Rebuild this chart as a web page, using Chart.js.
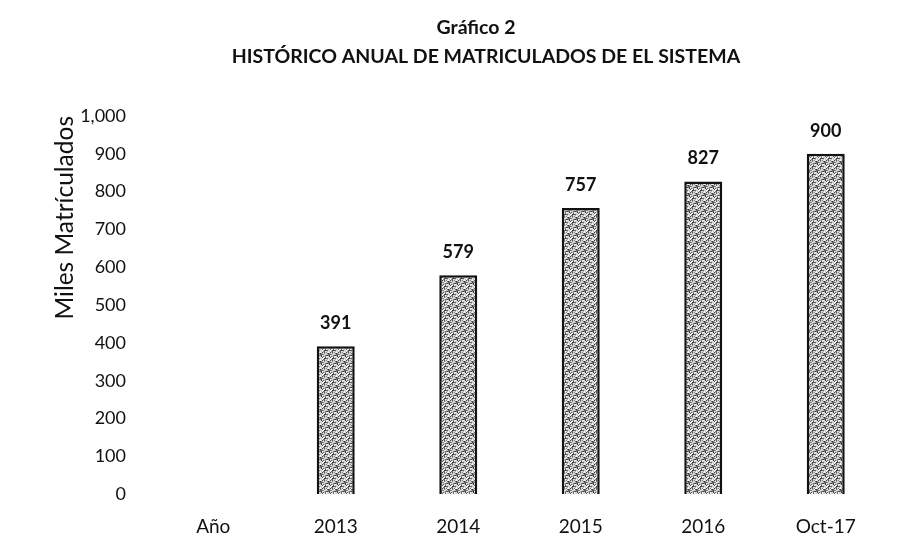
<!DOCTYPE html>
<html>
<head>
<meta charset="utf-8">
<script src="https://cdn.jsdelivr.net/npm/chart.js@4/dist/chart.umd.min.js"></script>
<style>
  html, body { margin: 0; padding: 0; background: #fff; }
  #wrap { width: 906px; height: 548px; position: relative; }
</style>
</head>
<body>
<div id="wrap"><canvas id="c" width="906" height="548"></canvas></div>
<script>
const titleLines = ['Gráfico 2', 'HISTÓRICO ANUAL DE MATRICULADOS DE EL SISTEMA'];
const yAxisTitle = 'Miles Matrículados';
const categories = ['Año', '2013', '2014', '2015', '2016', 'Oct-17'];
const matriculados = [null, 391, 579, 757, 827, 900];
const yMin = 0, yMax = 1000, yStep = 100;

// deterministic stipple texture for the bars
function makePattern() {
  const s = 8;
  const cv = document.createElement('canvas');
  cv.width = s; cv.height = s;
  const c = cv.getContext('2d');
  const shades = ['#f4f4f4', '#bdbdbd', '#7a7a7a', '#3c3c3c', '#d0d0d0', '#e6e6e6', '#5e5e5e'];
  for (let y = 0; y < s; y++) {
    for (let x = 0; x < s; x++) {
      const k = (x * 5 + y * 3 + ((x * y) % 4)) % shades.length;
      c.fillStyle = shades[k];
      c.fillRect(x, y, 1, 1);
    }
  }
  return document.getElementById('c').getContext('2d').createPattern(cv, 'repeat');
}

const headerPlugin = {
  id: 'header',
  afterDraw(chart) {
    const ctx = chart.ctx;
    ctx.save();
    ctx.fillStyle = '#111';
    ctx.textAlign = 'center';
    ctx.textBaseline = 'middle';
    ctx.font = 'bold 19.5px Lato';
    ctx.fillText(titleLines[0], chart.width / 2 + 23, 28);
    ctx.fillText(titleLines[1], chart.width / 2 + 33, 57);
    ctx.restore();
  }
};

const valueLabels = {
  id: 'valueLabels',
  afterDatasetsDraw(chart) {
    const ctx = chart.ctx;
    const meta = chart.getDatasetMeta(0);
    ctx.save();
    ctx.fillStyle = '#111';
    ctx.font = 'bold 18px Lato';
    ctx.textAlign = 'center';
    ctx.textBaseline = 'middle';
    meta.data.forEach((bar, i) => {
      const v = matriculados[i];
      if (v == null) return;
      ctx.fillText(v.toLocaleString('en-US'), bar.x, bar.y - 23);
    });
    ctx.restore();
  }
};

new Chart(document.getElementById('c'), {
  type: 'bar',
  data: {
    labels: categories,
    datasets: [{
      data: matriculados,
      backgroundColor: makePattern(),
      borderColor: '#111',
      borderWidth: 2.5,
      categoryPercentage: 1,
      barPercentage: 0.31
    }]
  },
  options: {
    responsive: false,
    animation: false,
    layout: { padding: { top: 116, right: 19, bottom: -11, left: 49 } },
    plugins: { legend: { display: false }, tooltip: { enabled: false }, title: { display: false } },
    scales: {
      x: {
        grid: { display: false, drawTicks: false },
        border: { display: false },
        ticks: { color: '#111', font: { family: 'Lato', size: 19 }, padding: 21, maxRotation: 0 }
      },
      y: {
        min: yMin, max: yMax,
        afterFit(scale) { scale.width = 103; },
        grid: { display: false, drawTicks: false },
        border: { display: false },
        ticks: {
          stepSize: yStep,
          color: '#111',
          font: { family: 'Lato', size: 18 },
          padding: 26,
          callback: v => v.toLocaleString('en-US')
        },
        title: {
          display: true,
          text: yAxisTitle,
          align: 'end',
          color: '#111',
          font: { family: 'Lato', size: 24.5 },
          padding: { top: 1, bottom: 0 }
        }
      }
    }
  },
  plugins: [headerPlugin, valueLabels]
});
</script>
</body>
</html>
